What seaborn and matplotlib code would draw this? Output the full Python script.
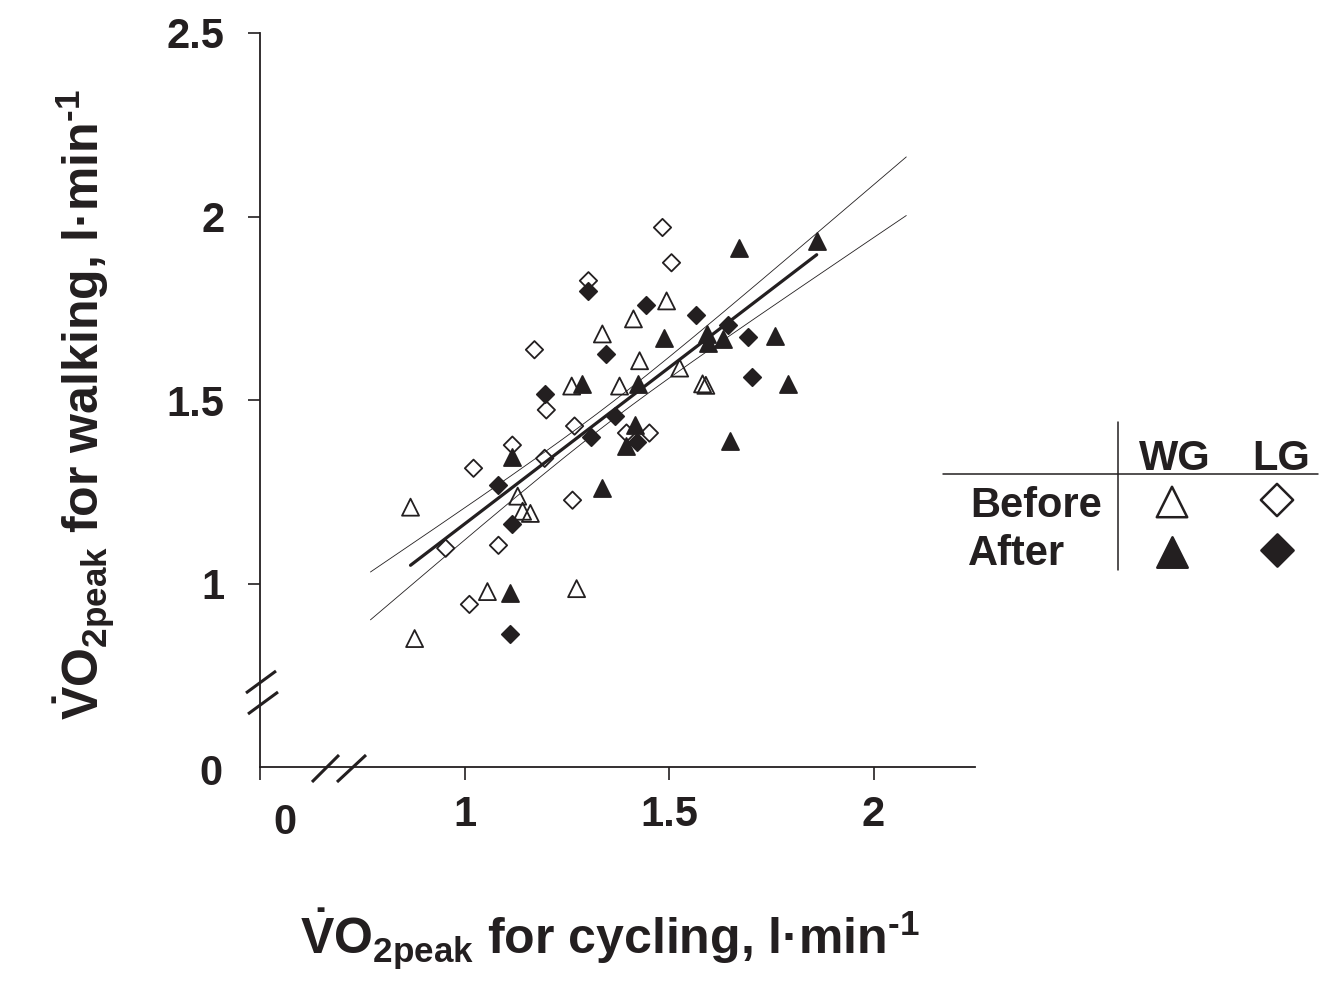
import numpy as np
import pandas as pd
import matplotlib
matplotlib.use('Agg')
import matplotlib.pyplot as plt
import seaborn as sns

# VO2peak values (l/min): x = cycling, y = walking
wg_before_cyc = [0.868, 0.878, 1.056, 1.130, 1.142, 1.161, 1.262, 1.274,
                 1.337, 1.379, 1.413, 1.428, 1.494, 1.526, 1.582, 1.590]
wg_before_walk = [1.208, 0.850, 0.978, 1.238, 1.197, 1.191, 1.538, 0.986,
                  1.680, 1.538, 1.721, 1.607, 1.770, 1.587, 1.544, 1.540]

wg_after_cyc = [1.112, 1.117, 1.286, 1.337, 1.396, 1.418, 1.425, 1.487,
                1.592, 1.595, 1.631, 1.650, 1.672, 1.758, 1.790, 1.861]
wg_after_walk = [0.973, 1.344, 1.544, 1.260, 1.374, 1.432, 1.544, 1.669,
                 1.680, 1.655, 1.667, 1.388, 1.915, 1.675, 1.544, 1.932]

lg_before_cyc = [0.954, 1.012, 1.022, 1.083, 1.117, 1.171, 1.196, 1.200,
                 1.264, 1.269, 1.303, 1.396, 1.452, 1.484, 1.506]
lg_before_walk = [1.096, 0.943, 1.314, 1.104, 1.377, 1.637, 1.341, 1.473,
                  1.227, 1.429, 1.825, 1.410, 1.410, 1.970, 1.874]

lg_after_cyc = [1.081, 1.110, 1.117, 1.196, 1.301, 1.308, 1.347, 1.367,
                1.421, 1.443, 1.565, 1.643, 1.694, 1.704]
lg_after_walk = [1.268, 0.863, 1.161, 1.516, 1.798, 1.399, 1.626, 1.456,
                 1.385, 1.760, 1.732, 1.705, 1.672, 1.563]

x_ticks = [1, 1.5, 2]
y_ticks = [1, 1.5, 2, 2.5]

ink = '#231f20'

df = pd.concat([
    pd.DataFrame({'cycling': wg_before_cyc, 'walking': wg_before_walk, 'group': 'WG', 'time': 'Before'}),
    pd.DataFrame({'cycling': wg_after_cyc, 'walking': wg_after_walk, 'group': 'WG', 'time': 'After'}),
    pd.DataFrame({'cycling': lg_before_cyc, 'walking': lg_before_walk, 'group': 'LG', 'time': 'Before'}),
    pd.DataFrame({'cycling': lg_after_cyc, 'walking': lg_after_walk, 'group': 'LG', 'time': 'After'}),
], ignore_index=True)

sns.set_style('white')
plt.rcParams['font.family'] = ['Liberation Sans', 'DejaVu Sans']
plt.rcParams['font.weight'] = 'bold'
plt.rcParams['mathtext.fontset'] = 'custom'
plt.rcParams['mathtext.rm'] = 'Liberation Sans:bold'
plt.rcParams['mathtext.it'] = 'Liberation Sans:bold'
plt.rcParams['mathtext.bf'] = 'Liberation Sans:bold'

W, H = 1328, 983
fig = plt.figure(figsize=(W / 100, H / 100), dpi=100)
ax = fig.add_axes([260 / W, 1 - 767 / H, 715 / W, 734 / H])

# regression line + standard-error band of the fit
sns.regplot(data=df, x='cycling', y='walking', scatter=False, ci=None,
            truncate=True, line_kws=dict(color=ink, lw=2.3), ax=ax)
x = df['cycling'].to_numpy()
y = df['walking'].to_numpy()
slope, icept = np.polyfit(x, y, 1)
n = len(x)
s = np.sqrt(np.sum((y - (slope * x + icept)) ** 2) / (n - 2))
sxx = np.sum((x - x.mean()) ** 2)
cx = np.linspace(0.77, 2.08, 200)
half = s * np.sqrt(1 / n + (cx - x.mean()) ** 2 / sxx)
ax.plot(cx, slope * cx + icept + half, color=ink, lw=0.6)
ax.plot(cx, slope * cx + icept - half, color=ink, lw=0.6)

# points
tri_s, dia_s, mlw = 150, 78, 1.3
sub = df[(df.group == 'WG') & (df.time == 'Before')]
sns.scatterplot(data=sub, x='cycling', y='walking', marker='^', s=tri_s,
                facecolor='none', edgecolor=ink, linewidth=mlw, ax=ax, zorder=3)
sub = df[(df.group == 'LG') & (df.time == 'Before')]
sns.scatterplot(data=sub, x='cycling', y='walking', marker='D', s=dia_s,
                facecolor='none', edgecolor=ink, linewidth=mlw, ax=ax, zorder=3)
sub = df[(df.group == 'WG') & (df.time == 'After')]
sns.scatterplot(data=sub, x='cycling', y='walking', marker='^', s=tri_s,
                color=ink, edgecolor=ink, linewidth=mlw, ax=ax, zorder=3)
sub = df[(df.group == 'LG') & (df.time == 'After')]
sns.scatterplot(data=sub, x='cycling', y='walking', marker='D', s=dia_s,
                color=ink, edgecolor=ink, linewidth=mlw, ax=ax, zorder=3)

ax.set_xlim(0.5, 2.248)
ax.set_ylim(0.5, 2.5)
ax.set_xticks([0.5] + x_ticks, ['', '1', '1.5', '2'])
ax.set_yticks(y_ticks, ['1', '1.5', '2', '2.5'])
ax.tick_params(axis='x', length=9, width=1.2, color=ink, pad=11,
               labelsize=30, labelcolor=ink, direction='out', bottom=True)
ax.tick_params(axis='y', length=8.6, width=1.2, color=ink, pad=17,
               labelsize=30, labelcolor=ink, direction='out', left=True)
for t in ax.get_xticklabels() + ax.get_yticklabels():
    t.set_fontweight('bold')
ax.annotate('0', xy=(0.5, 0), xycoords=('data', 'axes fraction'),
            xytext=(18, -40), textcoords='offset points', ha='center', va='center',
            fontsize=30, fontweight='bold', color=ink)
ax.annotate('0', xy=(0, 0.5), xycoords=('axes fraction', 'data'),
            xytext=(-27, -5), textcoords='offset points', ha='right', va='center',
            fontsize=30, fontweight='bold', color=ink)
sns.despine(ax=ax)
for sp in ('left', 'bottom'):
    ax.spines[sp].set_color(ink)
    ax.spines[sp].set_linewidth(1.3)
ax.set_xlabel('')
ax.set_ylabel('')

lab_x = r'$\dot{\mathrm{V}}\mathrm{O}_{\mathrm{2peak}}$ for cycling, l·min$^{\text{-1}}$'
lab_y = r'$\dot{\mathrm{V}}\mathrm{O}_{\mathrm{2peak}}$ for walking, l·min$^{\text{-1}}$'
fig.text(300 / W, 1 - 955 / H, lab_x, ha='left', va='baseline', fontsize=36,
         fontweight='bold', color=ink)
fig.text(100 / W, 1 - 720 / H, lab_y, ha='left', va='baseline', fontsize=36,
         fontweight='bold', color=ink, rotation=90, rotation_mode='anchor')

# overlay in pixel units for axis breaks and the legend table
ov = fig.add_axes([0, 0, 1, 1])
ov.set_xlim(0, W)
ov.set_ylim(H, 0)
ov.axis('off')
ov.patch.set_alpha(0)
for (x0, y0, x1, y1) in [(246, 693, 276, 671), (248, 714, 278, 692),
                         (312, 782, 339, 755), (337, 782, 366, 755)]:
    ov.plot([x0, x1], [y0, y1], color=ink, lw=2.2, solid_capstyle='butt')

ov.plot([943, 1318], [474, 474], color=ink, lw=1.1)
ov.plot([1118, 1118], [422, 570], color=ink, lw=1.1)
for txt, tx, ty, ha in [('WG', 1175, 470, 'center'), ('LG', 1281, 470, 'center'),
                        ('Before', 970, 517, 'left'), ('After', 968, 565, 'left')]:
    ov.text(tx, ty, txt, ha=ha, va='baseline', fontsize=30, fontweight='bold', color=ink)
ov.scatter([1172], [502], marker='^', s=480, facecolor='none', edgecolor=ink, linewidths=1.8)
ov.scatter([1277], [500], marker='D', s=270, facecolor='none', edgecolor=ink, linewidths=1.8)
ov.scatter([1172], [552], marker='^', s=480, color=ink, edgecolor=ink, linewidths=1.8)
ov.scatter([1277], [550], marker='D', s=270, color=ink, edgecolor=ink, linewidths=1.8)

plt.savefig('out.png', dpi=100)
